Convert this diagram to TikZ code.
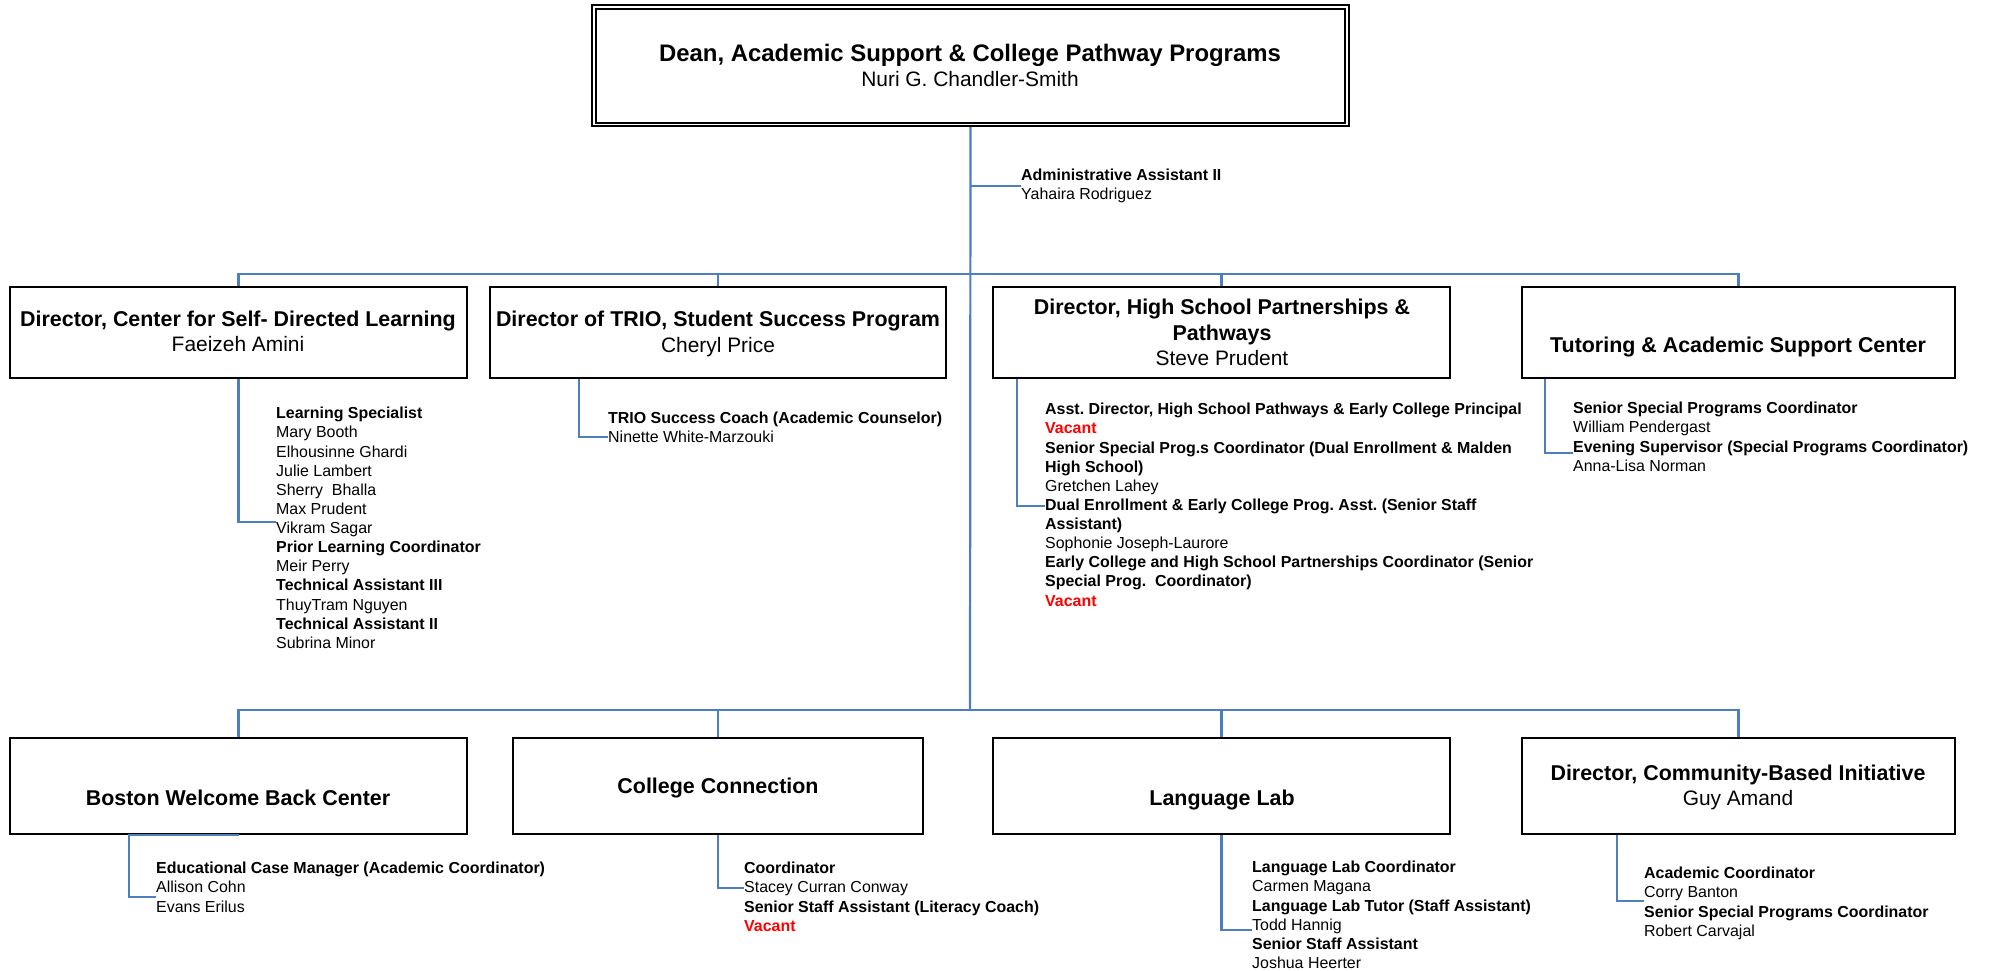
\documentclass[tikz,border=0pt]{standalone}
\usepackage{fontspec}
\setmainfont{Liberation Sans}
\usetikzlibrary{calc}
\definecolor{linkblue}{RGB}{76,126,192}
\definecolor{vacred}{RGB}{255,0,0}
\frenchspacing
% strut that fixes the height and depth of every text line
\newcommand\bst{\rule[-0.3em]{0pt}{0.9em}}
\newcommand\hd[1]{\textbf{#1}}
\newcommand\vacant{\textcolor{vacred}{\textbf{Vacant}}}
\newcommand\ttlfont{\fontsize{21.5}{25.5}\selectfont}
\begin{document}
\begin{tikzpicture}[x=1bp,y=-1bp,
  orgbox/.style={draw=black,line width=2.4bp,inner sep=0pt},
  link/.style={draw=linkblue,line width=2.2bp},
  ttl/.style={align=center,inner sep=0pt,font=\fontsize{21}{25.5}\selectfont},
  lst/.style={align=left,anchor=north west,inner sep=0pt,font=\fontsize{16}{19.2}\selectfont}]
\useasboundingbox[fill=white] (0,0) rectangle (1989,971);

% ---------- Dean ----------
\node[orgbox,line width=2.3bp,minimum width=757bp,minimum height=121bp] (dean) at (970.5,65.5) {};
\draw[line width=2.1bp] ([xshift=4.8bp,yshift=-4.8bp]dean.north west) rectangle ([xshift=-4.8bp,yshift=4.5bp]dean.south east);
\node[ttl,font=\fontsize{24}{29}\selectfont\bfseries] (deanT) at (970,56) {\bst Dean, Academic Support \& College Pathway Programs};
\node[ttl] (deanN) at (970,82.5) {\bst Nuri G. Chandler-Smith};

% ---------- Administrative assistant ----------
\node[lst] (adm) at (1021,168.5) {\bst\hd{Administrative Assistant II}\\Yahaira Rodriguez};

% ---------- Row 1 boxes ----------
\node[orgbox,minimum width=457bp,minimum height=91bp] (bA) at (238.5,332.5) {};
\node[orgbox,minimum width=456bp,minimum height=91bp] (bB) at (718,332.5) {};
\node[orgbox,minimum width=457bp,minimum height=91bp] (bC) at (1221.5,332.5) {};
\node[orgbox,minimum width=433bp,minimum height=91bp] (bD) at (1738.5,332.5) {};

\node[ttl] (tA) at (238,334.5) {\bst{\ttlfont\bfseries Director, Center for Self- Directed Learning}\\\bst Faeizeh Amini};
\node[ttl] (tB) at (718,335) {\bst{\ttlfont\bfseries Director of TRIO, Student Success Program}\\\bst Cheryl Price};
\node[ttl] (tC) at (1222,335.5) {\bst{\ttlfont\bfseries Director, High School Partnerships \&}\\\bst{\ttlfont\bfseries Pathways}\\\bst Steve Prudent};
\node[ttl] (tD) at (1738,348) {\bst{\ttlfont\bfseries Tutoring \& Academic Support Center}};

% ---------- Row 2 boxes ----------
\node[orgbox,minimum width=457bp,minimum height=96bp] (bE) at (238.5,786) {};
\node[orgbox,minimum width=410bp,minimum height=96bp] (bF) at (718,786) {};
\node[orgbox,minimum width=457bp,minimum height=96bp] (bG) at (1221.5,786) {};
\node[orgbox,minimum width=433bp,minimum height=96bp] (bH) at (1738.5,786) {};

\node[ttl] (tE) at (238,801) {\bst{\ttlfont\bfseries Boston Welcome Back Center}};
\node[ttl] (tF) at (718,789) {\bst{\ttlfont\bfseries College Connection}};
\node[ttl] (tG) at (1222,801) {\bst{\ttlfont\bfseries Language Lab}};
\node[ttl] (tH) at (1738,788.5) {\bst{\ttlfont\bfseries Director, Community-Based Initiative}\\\bst Guy Amand};

% ---------- Staff lists ----------
\node[lst] (lA) at (276,407) {\bst\hd{Learning Specialist}\\Mary Booth\\Elhousinne Ghardi\\Julie Lambert\\Sherry\ \ Bhalla\\Max Prudent\\Vikram Sagar\\\hd{Prior Learning Coordinator}\\Meir Perry\\\hd{Technical Assistant III}\\ThuyTram Nguyen\\\hd{Technical Assistant II}\\Subrina Minor};
\node[lst] (lB) at (608,411.5) {\bst\hd{TRIO Success Coach (Academic Counselor)}\\Ninette White-Marzouki};
\node[lst] (lC) at (1045,403) {\bst\hd{Asst. Director, High School Pathways \& Early College Principal}\\\vacant\\\hd{Senior Special Prog.s Coordinator (Dual Enrollment \& Malden}\\\hd{High School)}\\Gretchen Lahey\\\hd{Dual Enrollment \& Early College Prog. Asst. (Senior Staff}\\\hd{Assistant)}\\Sophonie Joseph-Laurore\\\hd{Early College and High School Partnerships Coordinator (Senior}\\\hd{Special Prog.\ \ Coordinator)}\\\vacant};
\node[lst] (lD) at (1573,402) {\bst\hd{Senior Special Programs Coordinator}\\William Pendergast\\\hd{Evening Supervisor (Special Programs Coordinator)}\\Anna-Lisa Norman};
\node[lst] (lE) at (156,862) {\bst\hd{Educational Case Manager (Academic Coordinator)}\\Allison Cohn\\Evans Erilus};
\node[lst] (lF) at (744,862) {\bst\hd{Coordinator}\\Stacey Curran Conway\\\hd{Senior Staff Assistant (Literacy Coach)}\\\vacant};
\node[lst] (lG) at (1252,861) {\bst\hd{Language Lab Coordinator}\\Carmen Magana\\\hd{Language Lab Tutor (Staff Assistant)}\\Todd Hannig\\\hd{Senior Staff Assistant}\\Joshua Heerter};
\node[lst] (lH) at (1644,867) {\bst\hd{Academic Coordinator}\\Corry Banton\\\hd{Senior Special Programs Coordinator}\\Robert Carvajal};

% ---------- Connectors ----------
\coordinate (bus1) at (970,274);
\coordinate (bus2) at (970,710);
\draw[link] (dean.south) -- (bus2);
\draw[link] (dean.south |- 0,186) -- (adm.west |- 0,186);

\draw[link] (bA.north) -- (bA.north |- bus1) -- (bD.north |- bus1) -- (bD.north);
\draw[link] (bB.north) -- (bB.north |- bus1);
\draw[link] (bC.north) -- (bC.north |- bus1);

\draw[link] (bE.north) -- (bE.north |- bus2) -- (bH.north |- bus2) -- (bH.north);
\draw[link] (bF.north) -- (bF.north |- bus2);
\draw[link] (bG.north) -- (bG.north |- bus2);

\draw[link] (bA.south) |- (lA.west |- 0,522);
\draw[link] ([xshift=90bp]bB.south west) |- (lB.west |- 0,437);
\draw[link] ([xshift=25bp]bC.south west) |- (lC.west |- 0,506);
\draw[link] ([xshift=24bp]bD.south west) |- (lD.west |- 0,453);

\draw[link] (bE.south) -- ([xshift=120bp]bE.south west) |- (lE.west |- 0,897);
\draw[link] (bF.south) |- (lF.west |- 0,888);
\draw[link] (bG.south) |- (lG.west |- 0,930);
\draw[link] ([xshift=96bp]bH.south west) |- (lH.west |- 0,901);
\end{tikzpicture}
\end{document}
